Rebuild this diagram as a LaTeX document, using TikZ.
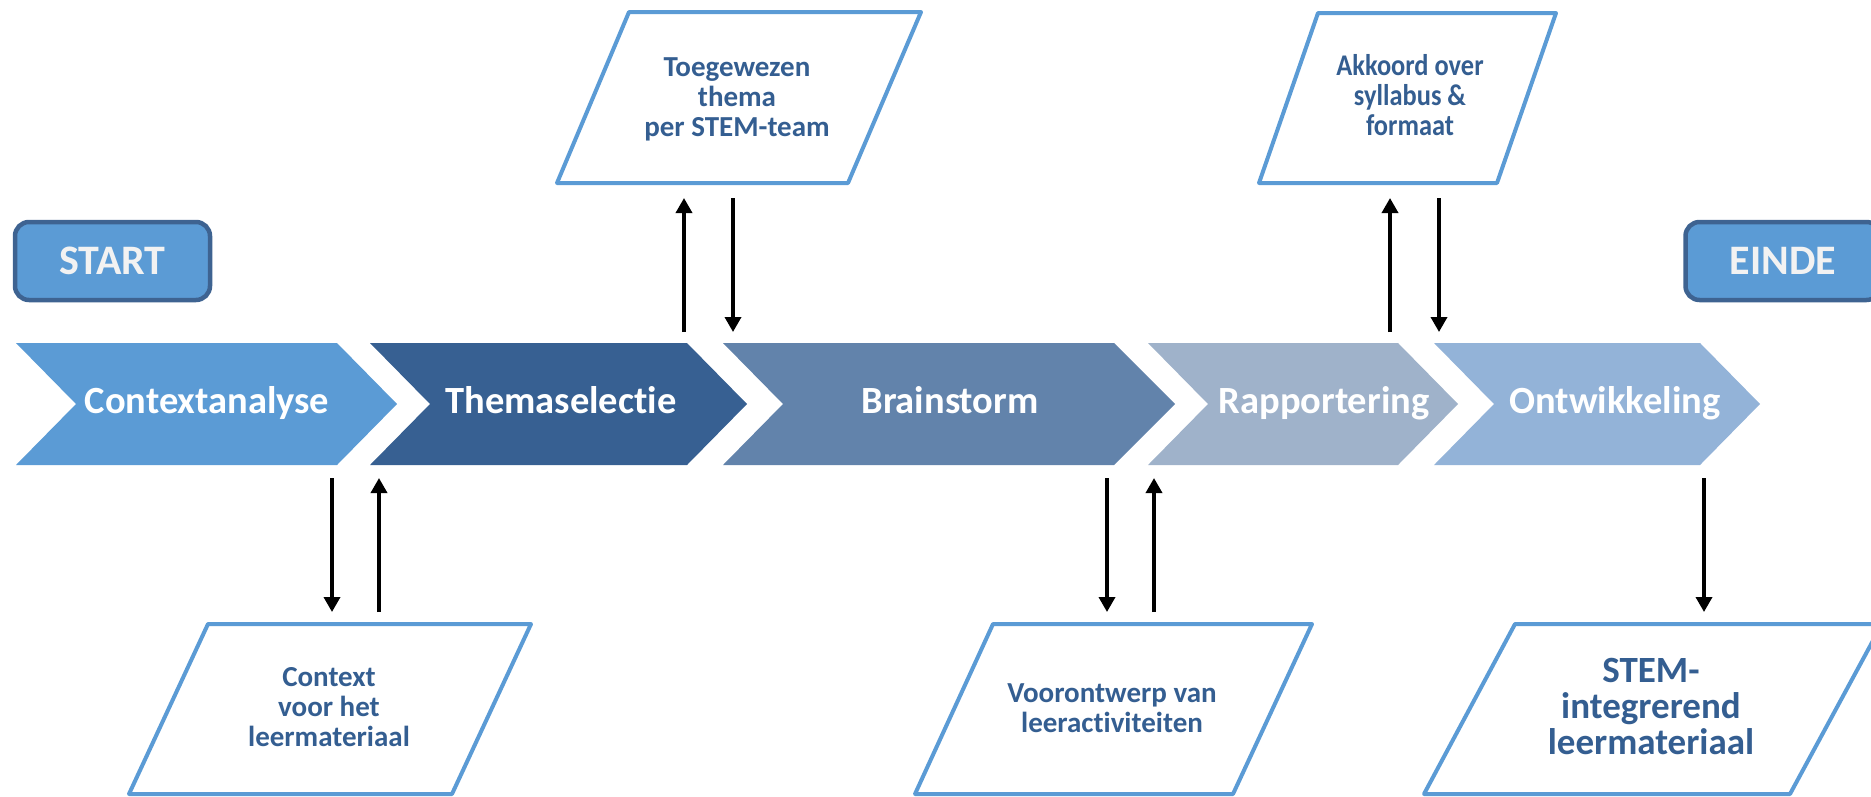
\documentclass[tikz,border=0pt]{standalone}
\usepackage{fontspec}
\setmainfont[Ligatures=NoCommon]{Carlito}
\newfontfamily\condfont[FakeStretch=0.88,Ligatures=NoCommon]{Carlito}
\usetikzlibrary{arrows.meta}
\definecolor{chA}{HTML}{5B9BD5}
\definecolor{chB}{HTML}{376092}
\definecolor{chC}{HTML}{6283AB}
\definecolor{chD}{HTML}{9FB2CA}
\definecolor{chE}{HTML}{93B3D8}
\definecolor{boxborder}{HTML}{3E6391}
\definecolor{boxtext}{HTML}{F2F2F2}
\definecolor{ptxt}{HTML}{345E91}
\tikzset{
  chevtext/.style={anchor=base, inner sep=0pt, text=white, font=\fontsize{38.5}{46}\selectfont\bfseries},
  termbox/.style={draw=boxborder, line width=4.5pt, fill=chA, rounded corners=14pt,
    minimum width=195pt, minimum height=78pt, inner sep=0pt, text=boxtext,
    font=\fontsize{42}{50}\selectfont\bfseries},
  para/.style={draw=chA, line width=4pt, line join=round, fill=white},
  ptext/.style={inner sep=0pt, align=center, text=ptxt, font=\fontsize{29}{30}\selectfont\bfseries},
  bigptext/.style={inner sep=0pt, align=center, text=ptxt, font=\fontsize{37}{36}\selectfont\bfseries},
  flowarrow/.style={line width=3.5pt, -{Triangle[width=16pt,length=15pt]}}
}
\begin{document}
\begin{tikzpicture}[x=1pt,y=-1pt]
\useasboundingbox (0,0) rectangle (1871,796);
\clip (0,0) rectangle (1871,796);

% chevrons
\fill[chA] (16,343) -- (337,343) -- (397,404) -- (337,465) -- (16,465) -- (76,404) -- cycle;
\fill[chB] (370,343) -- (687,343) -- (747,404) -- (687,465) -- (370,465) -- (430,404) -- cycle;
\fill[chC] (723,343) -- (1114,343) -- (1175,404) -- (1114,465) -- (723,465) -- (783,404) -- cycle;
\fill[chD] (1148,343) -- (1398,343) -- (1458,404) -- (1398,465) -- (1148,465) -- (1208,404) -- cycle;
\fill[chE] (1434,343) -- (1700,343) -- (1760,404) -- (1700,465) -- (1434,465) -- (1494,404) -- cycle;

\node[chevtext] (ctx) at (207,413) {Contextanalyse};
\node[chevtext] (thema) at (561,413) {Themaselectie};
\node[chevtext] (brain) at (950,413) {Brainstorm};
\node[chevtext] (rapp) at (1324,413) {Rapportering};
\node[chevtext] (ontw) at (1615,413) {Ontwikkeling};

% start / end
\node[termbox] (start) at (112.5,261) {START};
\node[termbox] (einde) at (1783,261) {EINDE};

% parallelograms
\draw[para] (629,12) -- (921,12) -- (848,183) -- (557,183) -- cycle;
\draw[para] (1318,13) -- (1556,13) -- (1497,183) -- (1259,183) -- cycle;
\draw[para] (208,624) -- (531,624) -- (452,794) -- (129,794) -- cycle;
\draw[para] (993,624) -- (1312,624) -- (1233,794) -- (915,794) -- cycle;
\draw[para] (1515,624) -- (1882,624) -- (1790,794) -- (1424,794) -- cycle;

\node[ptext] (toeg) at (737,99) {Toegewezen\\thema\\per STEM-team};
\node[ptext, font=\fontsize{30}{30}\selectfont\bfseries\condfont] (akk) at (1410,95) {Akkoord over\\syllabus \&\\formaat};
\node[ptext] (context) at (329,707) {Context\\voor het\\leermateriaal};
\node[ptext] (voor) at (1112,708) {Voorontwerp van\\leeractiviteiten};
\node[bigptext] (stem) at (1651,706) {STEM-\\integrerend\\leermateriaal};

% arrow end points
\coordinate (uA1) at (684,332); \coordinate (uA2) at (684,198);
\coordinate (dA1) at (733,198); \coordinate (dA2) at (733,332);
\coordinate (uB1) at (1390,332); \coordinate (uB2) at (1390,198);
\coordinate (dB1) at (1439,198); \coordinate (dB2) at (1439,332);
\coordinate (dC1) at (332,478); \coordinate (dC2) at (332,612);
\coordinate (uC1) at (379,612); \coordinate (uC2) at (379,478);
\coordinate (dD1) at (1107,478); \coordinate (dD2) at (1107,612);
\coordinate (uD1) at (1154,612); \coordinate (uD2) at (1154,478);
\coordinate (dE1) at (1704,478); \coordinate (dE2) at (1704,612);

\draw[flowarrow] (uA1) -- (uA2);
\draw[flowarrow] (dA1) -- (dA2);
\draw[flowarrow] (uB1) -- (uB2);
\draw[flowarrow] (dB1) -- (dB2);
\draw[flowarrow] (dC1) -- (dC2);
\draw[flowarrow] (uC1) -- (uC2);
\draw[flowarrow] (dD1) -- (dD2);
\draw[flowarrow] (uD1) -- (uD2);
\draw[flowarrow] (dE1) -- (dE2);
\end{tikzpicture}
\end{document}
